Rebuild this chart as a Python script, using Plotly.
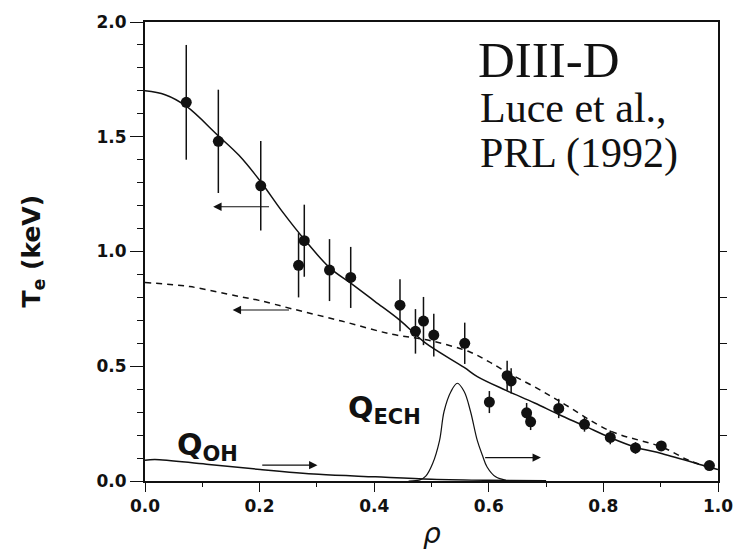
import plotly.graph_objects as go

# Measured electron temperature (keV) vs rho
te_x = [0.072, 0.128, 0.202, 0.268, 0.278, 0.322, 0.359, 0.445, 0.472, 0.486, 0.504, 0.558,
        0.601, 0.632, 0.639, 0.666, 0.673, 0.722, 0.767, 0.812, 0.856, 0.901, 0.985]
te_y = [1.650, 1.480, 1.286, 0.940, 1.047, 0.919, 0.887, 0.766, 0.652, 0.697, 0.636, 0.600,
        0.344, 0.459, 0.436, 0.297, 0.258, 0.316, 0.247, 0.190, 0.144, 0.153, 0.067]
te_err = [0.25, 0.225, 0.195, 0.14, 0.157, 0.135, 0.133, 0.113, 0.097, 0.105, 0.093, 0.09,
          0.048, 0.065, 0.055, 0.043, 0.036, 0.042, 0.032, 0.03, 0.025, 0.02, 0.02]

# Solid fit curve (ECH case)
fit_x = [0.0, 0.035, 0.072, 0.128, 0.164, 0.202, 0.239, 0.280, 0.322, 0.359, 0.401, 0.445,
         0.488, 0.557, 0.580, 0.630, 0.680, 0.722, 0.767, 0.811, 0.856, 0.903, 0.984, 1.0]
fit_y = [1.700, 1.683, 1.633, 1.504, 1.419, 1.304, 1.176, 1.047, 0.930, 0.862, 0.783, 0.700,
         0.604, 0.495, 0.455, 0.395, 0.340, 0.290, 0.240, 0.190, 0.147, 0.119, 0.061, 0.050]

# Dashed curve (ohmic case)
oh_x = [0.0, 0.078, 0.164, 0.199, 0.257, 0.343, 0.430, 0.499, 0.568, 0.600, 0.638, 0.680,
        0.724, 0.811, 0.903, 0.949, 0.985]
oh_y = [0.865, 0.847, 0.804, 0.787, 0.750, 0.697, 0.640, 0.611, 0.561, 0.520, 0.465, 0.410,
        0.347, 0.219, 0.147, 0.090, 0.060]

# Ohmic power deposition (right axis, arb. units)
qoh_x = [0.0, 0.017, 0.107, 0.201, 0.303, 0.402, 0.50, 0.60, 0.70]
qoh_y = [0.090, 0.094, 0.073, 0.050, 0.029, 0.018, 0.008, 0.003, 0.001]

# ECH power deposition (right axis, arb. units)
qech_x = [0.46, 0.480, 0.490, 0.502, 0.514, 0.522, 0.534, 0.545, 0.557, 0.568, 0.580,
          0.589, 0.597, 0.612, 0.63]
qech_y = [0.0, 0.005, 0.021, 0.076, 0.176, 0.304, 0.390, 0.426, 0.390, 0.304, 0.176,
          0.111, 0.061, 0.018, 0.003]

# Axis-indicator arrows: (start x, end x, y)
arrows = [(0.219, 0.119, 1.195), (0.254, 0.153, 0.745), (0.202, 0.301, 0.069), (0.591, 0.691, 0.102)]

x_ticks = [0.0, 0.2, 0.4, 0.6, 0.8, 1.0]
x_tick_labels = ["0.0", "0.2", "0.4", "0.6", "0.8", "1.0"]
y_ticks = [0.0, 0.5, 1.0, 1.5, 2.0]
y_tick_labels = ["0.0", "0.5", "1.0", "1.5", "2.0"]
y2_ticks = [0.2, 0.4, 0.6, 0.8, 1.0]

BLACK = "#111111"
SANS = "DejaVu Sans"
SERIF = "Liberation Serif"

fig = go.Figure()

fig.add_trace(go.Scatter(x=fit_x, y=fit_y, mode="lines", line=dict(color=BLACK, width=1.5, shape="spline"),
                         showlegend=False, hoverinfo="skip"))
fig.add_trace(go.Scatter(x=oh_x, y=oh_y, mode="lines",
                         line=dict(color=BLACK, width=1.5, dash="6px,5px", shape="spline"),
                         showlegend=False, hoverinfo="skip"))
fig.add_trace(go.Scatter(x=qoh_x, y=qoh_y, mode="lines", line=dict(color=BLACK, width=1.5, shape="spline"),
                         yaxis="y2", showlegend=False, hoverinfo="skip"))
fig.add_trace(go.Scatter(x=qech_x, y=qech_y, mode="lines", line=dict(color=BLACK, width=1.2, shape="spline"),
                         yaxis="y2", showlegend=False, hoverinfo="skip"))
fig.add_trace(go.Scatter(x=te_x, y=te_y, mode="markers",
                         marker=dict(color=BLACK, size=11, symbol="circle"),
                         error_y=dict(type="data", array=te_err, visible=True, color=BLACK,
                                      thickness=1.5, width=0),
                         showlegend=False))

for x0, x1, yv in arrows:
    fig.add_annotation(x=x1, y=yv, ax=x0, ay=yv, xref="x", yref="y", axref="x", ayref="y",
                       text="", showarrow=True, arrowhead=2, arrowsize=1.4, arrowwidth=1.2,
                       arrowcolor=BLACK, standoff=0, startstandoff=0)

# Text annotations
fig.add_annotation(x=0.578, y=1.835, xref="x", yref="y", text="DIII-D", showarrow=False,
                   xanchor="left", yanchor="middle", font=dict(family=SERIF, size=51, color=BLACK))
fig.add_annotation(x=0.582, y=1.625, xref="x", yref="y", text="Luce et al.,", showarrow=False,
                   xanchor="left", yanchor="middle", font=dict(family=SERIF, size=42, color=BLACK))
fig.add_annotation(x=0.582, y=1.425, xref="x", yref="y", text="PRL (1992)", showarrow=False,
                   xanchor="left", yanchor="middle", font=dict(family=SERIF, size=42, color=BLACK))
fig.add_annotation(x=0.052, y=0.15, xref="x", yref="y", text="<b>Q<sub>OH</sub></b>", showarrow=False,
                   xanchor="left", yanchor="middle", font=dict(family=SANS, size=30, color=BLACK))
fig.add_annotation(x=0.351, y=0.31, xref="x", yref="y", text="<b>Q<sub>ECH</sub></b>", showarrow=False,
                   xanchor="left", yanchor="middle", font=dict(family=SANS, size=30, color=BLACK))

# Axis titles
fig.add_annotation(x=-0.197, y=0.5, xref="paper", yref="paper", text="<b>T<sub>e</sub> (keV)</b>",
                   textangle=-90, showarrow=False, xanchor="center", yanchor="middle",
                   font=dict(family=SANS, size=25, color=BLACK))
fig.add_annotation(x=0.5, y=-0.115, xref="paper", yref="paper", text="<i>ρ</i>",
                   showarrow=False, xanchor="center", yanchor="middle",
                   font=dict(family=SANS, size=28, color=BLACK))

fig.update_layout(
    width=745, height=550,
    margin=dict(l=145, r=22, t=14, b=69),
    paper_bgcolor="white", plot_bgcolor="white",
    xaxis=dict(range=[0, 1], tickvals=x_ticks, ticktext=x_tick_labels,
               showgrid=False, zeroline=False, showline=True, linecolor=BLACK, linewidth=2,
               mirror=True, ticks="outside", ticklen=9, tickwidth=1.3, tickcolor=BLACK,
               minor=dict(dtick=0.1, ticks="outside", ticklen=4, tickwidth=1, tickcolor=BLACK,
                          showgrid=False),
               tickfont=dict(family=SANS, size=17, color=BLACK, weight="bold")),
    yaxis=dict(range=[0, 2], tickvals=y_ticks, ticktext=y_tick_labels,
               showgrid=False, zeroline=False, showline=True, linecolor=BLACK, linewidth=2,
               ticks="outside", ticklen=13, tickwidth=1.3, tickcolor=BLACK,
               minor=dict(dtick=0.1, ticks="outside", ticklen=6, tickwidth=1, tickcolor=BLACK,
                          showgrid=False),
               tickfont=dict(family=SANS, size=17, color=BLACK, weight="bold")),
    yaxis2=dict(range=[0, 2], overlaying="y", side="right", tickvals=y2_ticks,
                showticklabels=False, showgrid=False, zeroline=False, showline=True,
                linecolor=BLACK, linewidth=1.5, ticks="outside", ticklen=7, tickwidth=1,
                tickcolor=BLACK),
)

fig.write_html("out.html")
